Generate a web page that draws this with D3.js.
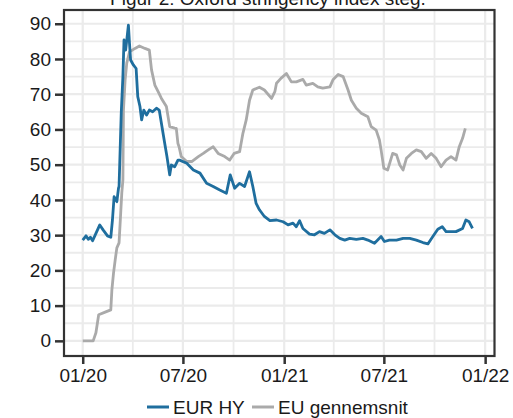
<!DOCTYPE html>
<html>
<head>
<meta charset="utf-8">
<script src="https://cdn.jsdelivr.net/npm/d3@7"></script>
<style>
  html, body { margin: 0; padding: 0; background: white; }
  svg { display: block; }
</style>
</head>
<body>
<div id="chart"></div>
<script>
// series
const hyDates = [
  "2020-01-01","2020-01-07","2020-01-11","2020-01-15","2020-01-19","2020-01-25","2020-02-01","2020-02-07",
  "2020-02-15","2020-02-21","2020-02-24","2020-02-27","2020-03-03","2020-03-06","2020-03-07","2020-03-09",
  "2020-03-11","2020-03-14","2020-03-16","2020-03-19","2020-03-24","2020-03-26","2020-03-28","2020-04-02",
  "2020-04-07","2020-04-10","2020-04-14","2020-04-17","2020-04-21","2020-04-26","2020-05-01","2020-05-07",
  "2020-05-14","2020-05-19","2020-05-23","2020-05-29","2020-06-02","2020-06-07","2020-06-10","2020-06-16",
  "2020-06-22","2020-06-25","2020-07-08","2020-07-20","2020-08-01","2020-08-13","2020-08-25","2020-09-06",
  "2020-09-18","2020-09-25","2020-10-03","2020-10-12","2020-10-21","2020-10-30","2020-11-05","2020-11-11",
  "2020-11-17","2020-11-26","2020-12-06","2020-12-18","2020-12-30","2021-01-08","2021-01-17","2021-01-23",
  "2021-01-29","2021-02-04","2021-02-16","2021-02-25","2021-03-06","2021-03-15","2021-03-25","2021-04-03",
  "2021-04-12","2021-04-21","2021-04-30","2021-05-12","2021-05-24","2021-06-02","2021-06-14","2021-06-26",
  "2021-07-02","2021-07-11","2021-07-24","2021-08-05","2021-08-17","2021-08-29","2021-09-10","2021-09-19",
  "2021-09-28","2021-10-07","2021-10-15","2021-10-22","2021-10-31","2021-11-09","2021-11-21","2021-11-27",
  "2021-12-03","2021-12-09"
];
const hyValues = [
  28.6, 29.8, 28.8, 29.4, 28.4, 30.5, 32.9, 31.5,
  29.8, 29.4, 34.3, 40.9, 39.5, 43.3, 43.8, 54.2,
  64.7, 75.0, 85.4, 82.5, 89.6, 84.4, 79.7, 78.3,
  77.3, 69.3, 66.5, 62.7, 65.5, 64.1, 65.5, 65.0,
  66.0, 65.5, 61.7, 56.0, 52.3, 47.1, 49.9, 49.4,
  51.3, 51.3, 50.4, 48.5, 47.6, 44.7, 43.8, 42.8,
  41.9, 47.1, 43.3, 44.7, 43.8, 48.0, 43.8, 39.0,
  37.2, 35.3, 34.1, 34.3, 33.8, 32.9, 33.4, 32.4,
  34.1, 31.9, 30.3, 30.1, 31.0, 30.5, 31.5, 30.1,
  29.1, 28.6, 29.1, 28.8, 29.1, 28.6, 27.7, 29.6,
  28.2, 28.6, 28.6, 29.1, 29.1, 28.6, 27.9, 27.5,
  29.6, 31.7, 32.4, 31.0, 31.0, 31.0, 31.9, 34.3,
  33.8, 31.9
];

const euDates = [
  "2020-01-01","2020-01-20","2020-01-25","2020-01-30","2020-02-13","2020-02-21","2020-02-23","2020-02-26",
  "2020-02-29","2020-03-03","2020-03-07","2020-03-10","2020-03-12","2020-03-14","2020-03-15","2020-03-18",
  "2020-03-21","2020-03-26","2020-04-05","2020-04-13","2020-04-23","2020-05-01","2020-05-05","2020-05-11",
  "2020-05-17","2020-05-23","2020-06-01","2020-06-07","2020-06-16","2020-06-19","2020-06-22","2020-06-24",
  "2020-06-28","2020-07-08","2020-07-17","2020-07-29","2020-08-07","2020-08-16","2020-08-25","2020-09-03",
  "2020-09-15","2020-09-24","2020-10-02","2020-10-12","2020-10-18","2020-10-24","2020-10-30","2020-11-05",
  "2020-11-17","2020-11-26","2020-12-09","2020-12-15","2020-12-18","2020-12-26","2021-01-05","2021-01-14",
  "2021-01-23","2021-02-04","2021-02-10","2021-02-22","2021-03-03","2021-03-12","2021-03-25","2021-03-31",
  "2021-04-09","2021-04-18","2021-04-27","2021-05-03","2021-05-12","2021-05-21","2021-06-02","2021-06-08",
  "2021-06-17","2021-06-23","2021-06-26","2021-07-01","2021-07-08","2021-07-17","2021-07-24","2021-07-30",
  "2021-08-05","2021-08-11","2021-08-20","2021-08-29","2021-09-07","2021-09-16","2021-09-25","2021-10-04",
  "2021-10-13","2021-10-22","2021-10-31","2021-11-09","2021-11-15","2021-11-21","2021-11-26"
];
const euValues = [
  0.0, 0.0, 2.3, 7.4, 8.3, 8.8, 14.5, 19.3,
  23.0, 26.4, 27.8, 36.3, 42.0, 45.7, 65.5, 74.0,
  78.8, 82.0, 83.0, 83.7, 83.0, 82.5, 76.9, 72.6,
  70.7, 68.8, 66.5, 60.8, 60.4, 60.3, 56.0, 55.1,
  52.3, 50.9, 50.9, 52.3, 53.2, 54.2, 55.1, 53.2,
  52.3, 51.3, 53.2, 53.7, 58.9, 62.7, 68.3, 71.2,
  72.0, 71.2, 68.8, 70.7, 73.1, 74.5, 75.9, 73.5,
  73.5, 74.2, 72.6, 73.1, 72.1, 71.7, 72.1, 74.2,
  75.6, 75.0, 71.2, 68.3, 66.0, 64.6, 63.6, 60.8,
  59.8, 57.0, 54.2, 49.0, 48.5, 53.2, 52.8, 49.9,
  48.5, 51.8, 53.2, 54.2, 53.7, 51.8, 53.2, 51.8,
  49.4, 51.3, 52.3, 51.3, 55.1, 57.5, 60.3
];

const yTicks = [0, 10, 20, 30, 40, 50, 60, 70, 80, 90];
const xTickDates = ["2020-01-01", "2020-07-01", "2021-01-01", "2021-07-01", "2022-01-01"];
const seriesNames = ["EUR HY", "EU gennemsnit"];
const seriesColours = ["#1f6e9e", "#aaaaaa"];
const title = "Figur 2: Oxford stringency index steg.";

const parse = d3.timeParse("%Y-%m-%d");
const hy = hyDates.map((d, i) => ({ date: parse(d), value: hyValues[i] }));
const eu = euDates.map((d, i) => ({ date: parse(d), value: euValues[i] }));

// plot globals
const w = 513;
const h = 418;
const p = { left: 64, right: 494.5, top: 10, bottom: 356 };
const font = "Liberation Sans, Arial, Helvetica, sans-serif";

const svg = d3
  .select("#chart")
  .append("svg")
  .attr("width", w)
  .attr("height", h)
  .attr("viewBox", [0, 0, w, h])
  .style("background", "white");

const x = d3
  .scaleTime()
  .domain([parse("2019-11-28"), parse("2022-01-18")])
  .range([p.left, p.right]);

const y = d3
  .scaleLinear()
  .domain([-4.3, 93.9])
  .range([p.bottom, p.top]);

// title, only its lower part shows at the top edge, as in the original
svg
  .append("text")
  .attr("x", 268)
  .attr("y", 5)
  .attr("text-anchor", "middle")
  .attr("font-family", font)
  .attr("font-size", 19)
  .attr("fill", "#1a1a1a")
  .text(title);

// grid
const grid = svg.append("g");
grid
  .selectAll("line.h")
  .data(d3.range(0, 95, 5))
  .join("line")
  .attr("x1", p.left)
  .attr("x2", p.right)
  .attr("y1", (d) => y(d))
  .attr("y2", (d) => y(d))
  .attr("stroke", "#ebebeb")
  .attr("stroke-width", (d) => (d % 10 === 0 ? 2.2 : 1.8));

grid
  .selectAll("line.v")
  .data(d3.timeMonth.every(3).range(parse("2020-01-01"), parse("2022-01-02")))
  .join("line")
  .attr("x1", (d) => x(d))
  .attr("x2", (d) => x(d))
  .attr("y1", p.top)
  .attr("y2", p.bottom)
  .attr("stroke", "#ebebeb")
  .attr("stroke-width", (d) => (d.getMonth() % 6 === 0 ? 2.2 : 1.8));

// lines
const line = d3
  .line()
  .x((d) => x(d.date))
  .y((d) => y(d.value));

svg
  .append("path")
  .datum(eu)
  .attr("fill", "none")
  .attr("stroke", seriesColours[1])
  .attr("stroke-width", 2.8)
  .attr("stroke-linejoin", "round")
  .attr("d", line);

svg
  .append("path")
  .datum(hy)
  .attr("fill", "none")
  .attr("stroke", seriesColours[0])
  .attr("stroke-width", 2.8)
  .attr("stroke-linejoin", "round")
  .attr("d", line);

// panel border
svg
  .append("rect")
  .attr("x", p.left)
  .attr("y", p.top)
  .attr("width", p.right - p.left)
  .attr("height", p.bottom - p.top)
  .attr("fill", "none")
  .attr("stroke", "#333333")
  .attr("stroke-width", 2.2);

// axes
const yAxis = (g) =>
  g
    .attr("transform", `translate(${p.left - 1},0)`)
    .call(d3.axisLeft(y).tickValues(yTicks).tickSize(8).tickPadding(4))
    .call((g) => g.select(".domain").remove());

const xAxis = (g) =>
  g
    .attr("transform", `translate(0,${p.bottom + 1})`)
    .call(
      d3
        .axisBottom(x)
        .tickValues(xTickDates.map(parse))
        .tickFormat(d3.timeFormat("%m/%y"))
        .tickSize(7)
        .tickPadding(5)
    )
    .call((g) => g.select(".domain").remove());

[yAxis, xAxis].forEach((ax) => {
  const g = svg.append("g").call(ax);
  g.selectAll("line").attr("stroke", "#333333").attr("stroke-width", 2.5);
  g.selectAll("text")
    .attr("font-family", font)
    .attr("font-size", 19)
    .attr("fill", "#1a1a1a");
});

// legend
const legend = svg.append("g").attr("transform", "translate(0,407)");
const legendX = [147, 252];
const legendItems = legend
  .selectAll("g")
  .data(seriesNames)
  .join("g")
  .attr("transform", (d, i) => `translate(${legendX[i]},0)`);

legendItems
  .append("line")
  .attr("x1", 0)
  .attr("x2", 22)
  .attr("stroke", (d, i) => seriesColours[i])
  .attr("stroke-width", 3);

legendItems
  .append("text")
  .attr("x", 26)
  .attr("y", 7)
  .attr("font-family", font)
  .attr("font-size", 19)
  .attr("fill", "#1a1a1a")
  .text((d) => d);
</script>
</body>
</html>
